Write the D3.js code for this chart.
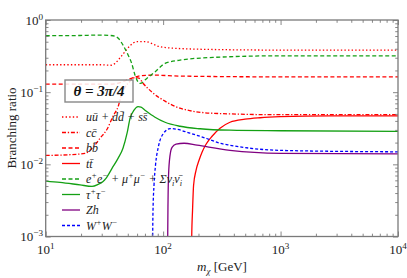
<!DOCTYPE html>
<html>
<head>
<meta charset="utf-8">
<script src="https://cdn.jsdelivr.net/npm/d3@7"></script>
<style>
  body { margin: 0; background: #fff; }
  svg { display: block; }
  text { font-family: "Liberation Serif", "DejaVu Serif", serif; }
</style>
</head>
<body>
<div id="chart"></div>
<script>
// branching ratios vs dark matter mass [GeV]
var uds = [[10,0.24],[29,0.24],[35.3,0.236],[38.9,0.25],[43,0.3],[45.5,0.335],[52.3,0.44],[59.5,0.5],[70.1,0.503],[94.1,0.426],[139.3,0.402],[305,0.389],[1000,0.383],[10000,0.383]];
var cc = [[10,0.0133],[16.1,0.0136],[21.6,0.0142],[25.3,0.0172],[29,0.023],[33.3,0.0306],[37.4,0.0464],[41.5,0.0639],[43.8,0.088],[47.4,0.117],[52.3,0.142],[57.6,0.159],[62.3,0.156],[67.4,0.133],[80.4,0.1],[103.8,0.075],[139.3,0.06],[266,0.051],[1000,0.0487],[10000,0.0487]];
var bb = [[10,0.129],[19.6,0.129],[35.3,0.129],[43,0.136],[50.2,0.149],[57.6,0.162],[66.1,0.17],[85.3,0.172],[139.3,0.167],[1000,0.163],[10000,0.163]];
var tt = [[174.9,1e-5],[175.2,0.001],[178,0.0023],[181.6,0.0051],[190.6,0.00825],[202.2,0.0114],[214.4,0.0147],[232,0.019],[261,0.0245],[305,0.0316],[371,0.0383],[498.5,0.0422],[669,0.0442],[990,0.0457],[2640,0.047],[10000,0.047]];
var leptons = [[10,0.605],[19.6,0.61],[29,0.619],[37.4,0.605],[41.3,0.562],[45.5,0.45],[50.2,0.33],[54,0.25],[57.6,0.172],[63.6,0.132],[72.5,0.155],[85.3,0.191],[103.8,0.25],[139.3,0.278],[266,0.303],[1000,0.319],[10000,0.319]];
var tautau = [[10,0.00586],[13.24,0.00562],[19.6,0.00519],[24.8,0.00495],[27.9,0.00527],[30.8,0.0058],[32.6,0.0064],[36.7,0.0088],[41.3,0.0121],[45.5,0.0167],[49.3,0.027],[52.3,0.0435],[56.5,0.0562],[61.1,0.0629],[64.8,0.0619],[70.1,0.0562],[85.3,0.045],[103.8,0.0383],[139.3,0.0337],[206.2,0.0311],[371,0.0297],[1000,0.0292],[10000,0.0287]];
var zh = [[109.2,1e-5],[109.4,0.001],[110.1,0.00316],[111.2,0.00703],[114.5,0.0133],[119.1,0.0172],[128.8,0.019],[150.7,0.0196],[194.4,0.0184],[371,0.0156],[1000,0.0142],[10000,0.014]];
var ww = [[81.3,1e-5],[81.5,0.001],[82,0.0023],[83.6,0.00511],[86.1,0.0097],[91,0.0174],[100.4,0.0267],[114.5,0.0313],[130.6,0.0306],[169.5,0.027],[235,0.0228],[305,0.0196],[371,0.0184],[1000,0.0156],[10000,0.0149]];

var xDecades = [10, 100, 1000, 10000];
var yDecades = [1e-3, 1e-2, 1e-1, 1];
var xTickLabels = [["10","1"],["10","2"],["10","3"],["10","4"]];
var yTickLabels = [["10","\u22123"],["10","\u22122"],["10","\u22121"],["10","0"]];

var legendLabels = [
  [["u\u016B + dd\u0304 + ss\u0304"]],
  [["cc\u0304"]],
  [["bb\u0304"]],
  [["tt\u0304"]],
  [["e"],["+","sup"],["e"],["\u2212","sup"],[" + \u03BC"],["+","sup"],["\u03BC"],["\u2212","sup"],[" + \u03A3\u03BD"],["i","sub"],["\u03BD\u0304"],["i","sub"]],
  [["\u03C4"],["+","sup"],["\u03C4"],["\u2212","sup"]],
  [["Zh"]],
  [["W"],["+","sup"],["W"],["\u2212","sup"]]
];

var series = [
  {data: uds, color: "#ff0000", dash: "1.4,2.2"},
  {data: cc, color: "#ff0000", dash: "4,1.8,1.3,1.8"},
  {data: bb, color: "#ff0000", dash: "4,2.5"},
  {data: tt, color: "#ff0000", dash: null},
  {data: leptons, color: "#14a014", dash: "4,2.5"},
  {data: tautau, color: "#14a014", dash: null},
  {data: zh, color: "#800080", dash: null},
  {data: ww, color: "#0000ff", dash: "3,2"}
];

var width = 407, height = 278;
var pl = 45.7, pr = 398, pt = 20, pb = 236.5;

var svg = d3.select("#chart").append("svg").attr("width", width).attr("height", height);

var x = d3.scaleLog().domain([10, 1e4]).range([pl, pr]);
var y = d3.scaleLog().domain([1e-3, 1]).range([pb, pt]);

svg.append("clipPath").attr("id", "clip")
  .append("rect").attr("x", pl).attr("y", pt).attr("width", pr - pl).attr("height", pb - pt);

// helper for text with super/subscripts
function rich(t, parts, size) {
  var cur = 0;
  parts.forEach(function(p) {
    var target = p[1] == "sup" ? -size * 0.38 : (p[1] == "sub" ? size * 0.22 : 0);
    var ts = t.append("tspan").text(p[0]).attr("dy", target - cur);
    if (p[1]) ts.attr("font-size", size * 0.7);
    cur = target;
  });
}

// curves
var line = d3.line()
  .x(function(d) { return x(d[0]); })
  .y(function(d) { return y(d[1]); })
  .curve(d3.curveMonotoneX);

var g = svg.append("g").attr("clip-path", "url(#clip)");
series.forEach(function(s) {
  g.append("path")
    .attr("d", line(s.data))
    .attr("fill", "none")
    .attr("stroke", s.color)
    .attr("stroke-width", 1.3)
    .attr("stroke-dasharray", s.dash);
});

// ticks on all four sides, pointing inward
var xMinor = [], yMinor = [];
xDecades.slice(0, 3).forEach(function(d) { for (var k = 2; k < 10; k++) xMinor.push(d * k); });
yDecades.slice(0, 3).forEach(function(d) { for (var k = 2; k < 10; k++) yMinor.push(d * k); });

function ticks(axis, vals, size, transform) {
  var a = svg.append("g").attr("transform", transform)
    .call(axis.tickValues(vals).tickSizeInner(-size).tickSizeOuter(0).tickFormat(""));
  a.select(".domain").remove();
  a.selectAll("line").attr("stroke", "#7a7a7a").attr("stroke-width", 0.9);
}
ticks(d3.axisBottom(x), xDecades, 5, "translate(0," + pb + ")");
ticks(d3.axisBottom(x), xMinor, 2.8, "translate(0," + pb + ")");
ticks(d3.axisTop(x), xDecades, 5, "translate(0," + pt + ")");
ticks(d3.axisTop(x), xMinor, 2.8, "translate(0," + pt + ")");
ticks(d3.axisLeft(y), yDecades, 5, "translate(" + pl + ",0)");
ticks(d3.axisLeft(y), yMinor, 2.8, "translate(" + pl + ",0)");
ticks(d3.axisRight(y), yDecades, 5, "translate(" + pr + ",0)");
ticks(d3.axisRight(y), yMinor, 2.8, "translate(" + pr + ",0)");

svg.append("rect")
  .attr("x", pl).attr("y", pt).attr("width", pr - pl).attr("height", pb - pt)
  .attr("fill", "none").attr("stroke", "#7a7a7a").attr("stroke-width", 1.3);

// tick labels
xDecades.forEach(function(d, i) {
  var t = svg.append("text").attr("x", x(d)).attr("y", 254)
    .attr("text-anchor", "middle").attr("font-size", 13).attr("fill", "#222");
  rich(t, [[xTickLabels[i][0]], [xTickLabels[i][1], "sup"]], 13);
});
yDecades.forEach(function(d, i) {
  var t = svg.append("text").attr("x", 43).attr("y", y(d) + 4.5)
    .attr("text-anchor", "end").attr("font-size", 13).attr("fill", "#222");
  rich(t, [[yTickLabels[i][0]], [yTickLabels[i][1], "sup"]], 13);
});

// axis titles
svg.append("text").attr("transform", "translate(16,128) rotate(-90)")
  .attr("text-anchor", "middle").attr("font-size", 13).attr("fill", "#222")
  .text("Branching ratio");
var xt = svg.append("text").attr("x", 222).attr("y", 271)
  .attr("text-anchor", "middle").attr("font-size", 13).attr("fill", "#222");
xt.append("tspan").attr("font-style", "italic").text("m");
xt.append("tspan").attr("font-style", "italic").attr("font-size", 9).attr("dy", 3).text("\u03C7");
xt.append("tspan").attr("dy", -3).text(" [GeV]");

// legend
var legendY = [117, 132.5, 148, 163.5, 179, 194.5, 210, 225.5];
series.forEach(function(s, i) {
  svg.append("line")
    .attr("x1", 62).attr("x2", 80).attr("y1", legendY[i]).attr("y2", legendY[i])
    .attr("stroke", s.color).attr("stroke-width", 1.3)
    .attr("stroke-dasharray", s.dash);
  var t = svg.append("text").attr("x", 86).attr("y", legendY[i] + 4)
    .attr("font-size", 12).attr("font-style", "italic").attr("fill", "#222");
  rich(t, legendLabels[i], 12);
});

// angle box
svg.append("rect")
  .attr("x", 65).attr("y", 80).attr("width", 68).attr("height", 22)
  .attr("fill", "#fff").attr("fill-opacity", 0.85)
  .attr("stroke", "#888").attr("stroke-width", 1.4);
svg.append("text").attr("x", 99).attr("y", 96)
  .attr("text-anchor", "middle").attr("font-size", 15)
  .attr("font-weight", "bold").attr("font-style", "italic").attr("fill", "#111")
  .text("\u03B8 = 3\u03C0/4");
</script>
</body>
</html>
